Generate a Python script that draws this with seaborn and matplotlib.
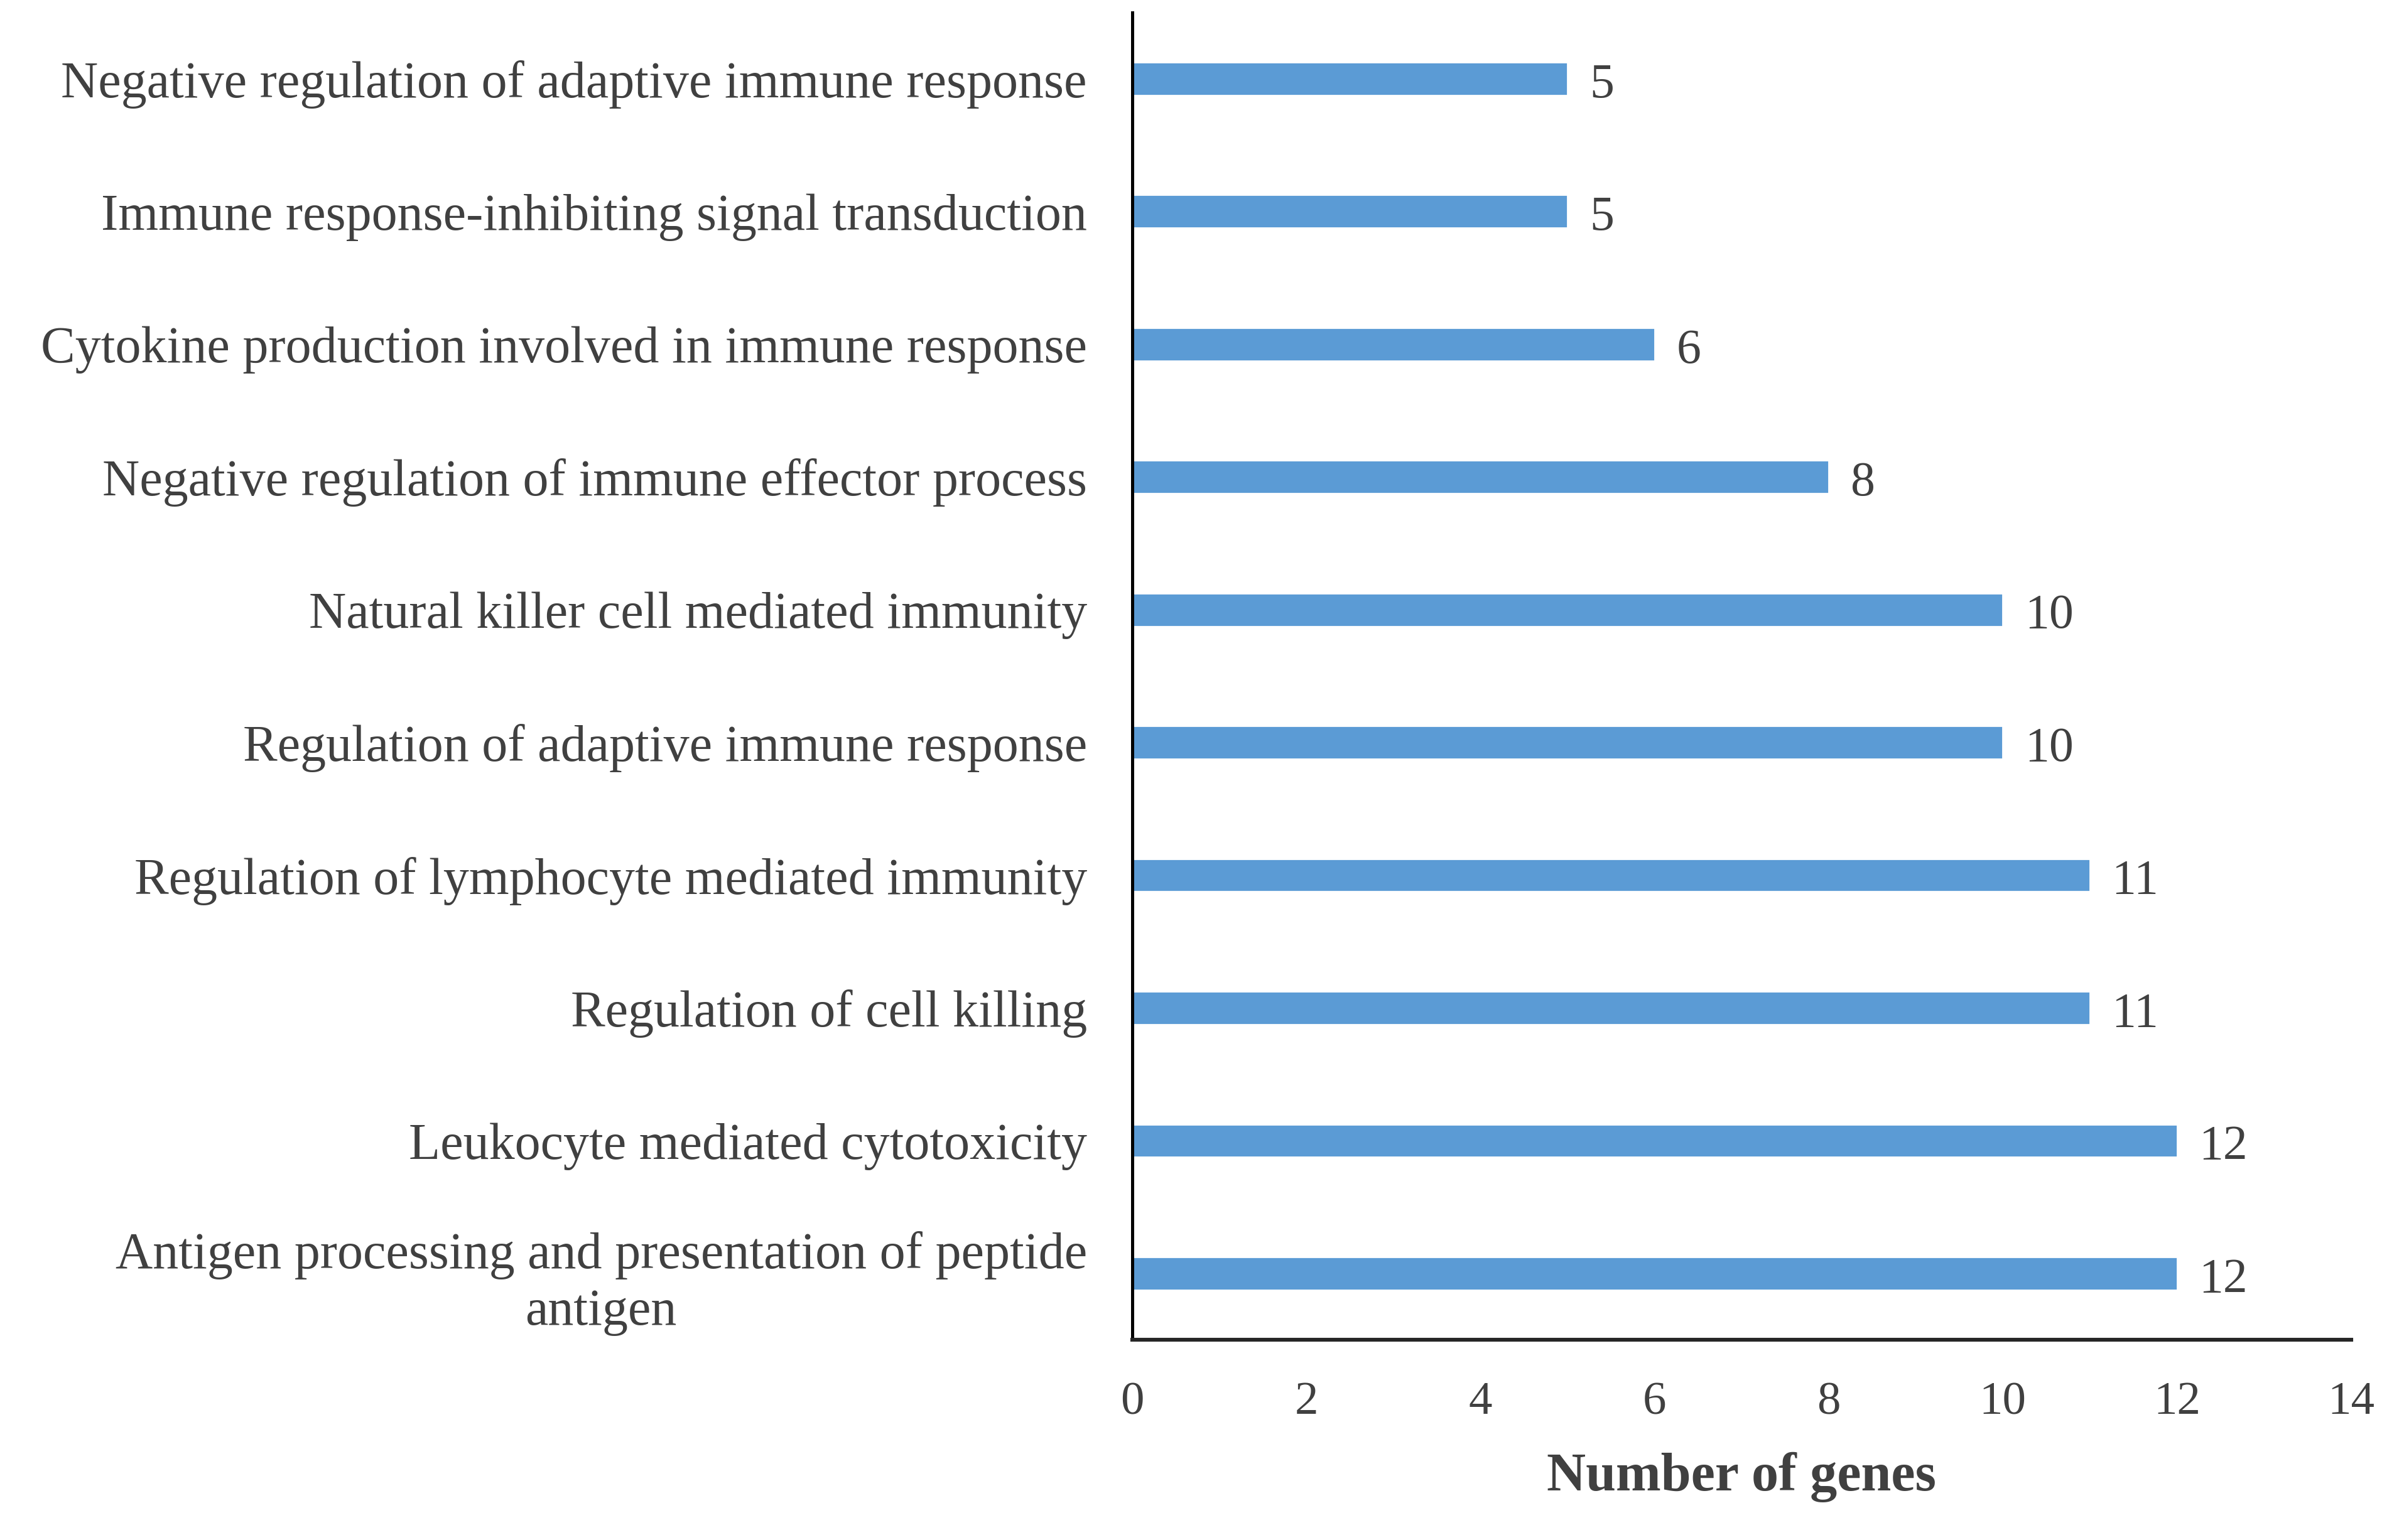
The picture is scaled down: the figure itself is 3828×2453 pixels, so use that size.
import matplotlib
matplotlib.use("Agg")
import matplotlib.pyplot as plt
import seaborn as sns
import pandas as pd

# Data (top to bottom)
terms = [
    "Negative regulation of adaptive immune response",
    "Immune response-inhibiting signal transduction",
    "Cytokine production involved in immune response",
    "Negative regulation of immune effector process",
    "Natural killer cell mediated immunity",
    "Regulation of adaptive immune response",
    "Regulation of lymphocyte mediated immunity",
    "Regulation of cell killing",
    "Leukocyte mediated cytotoxicity",
    "Antigen processing and presentation of peptide\nantigen",
]
gene_counts = [5, 5, 6, 8, 10, 10, 11, 11, 12, 12]
x_ticks = [0, 2, 4, 6, 8, 10, 12, 14]

BAR_COLOR = "#5B9BD5"
TEXT_COLOR = "#404040"

df = pd.DataFrame({"term": terms, "genes": gene_counts})

sns.set_style("white")
plt.rcParams["font.family"] = ["Liberation Serif", "DejaVu Serif"]

fig = plt.figure(figsize=(19.14, 12.265), dpi=200)
ax = fig.add_axes([0.471, 0.130, 0.507, 0.862])

sns.barplot(data=df, y="term", x="genes", orient="h", color=BAR_COLOR,
            width=0.25, saturation=1, ax=ax)

# value labels at bar ends
for i, v in enumerate(gene_counts):
    ax.text(v + 0.25, i + 0.05, str(v), va="center", ha="left",
            fontsize=28, color=TEXT_COLOR)

ax.set_xlim(0, 14)
ax.set_ylim(9.5, -0.5)
ax.set_xticks(x_ticks)
ax.set_xticklabels([str(t) for t in x_ticks], fontsize=27, color=TEXT_COLOR)
ax.tick_params(axis="x", direction="out", length=10, width=1.2, color="#404040", pad=14)
ax.tick_params(axis="y", length=0, pad=26)
for lbl in ax.get_yticklabels():
    lbl.set_fontsize(29.5)
    lbl.set_color(TEXT_COLOR)
    lbl.set_multialignment("center")
    lbl.set_linespacing(1.25)

ax.set_ylabel("")
ax.set_xlabel("Number of genes", fontsize=31, fontweight="bold", color=TEXT_COLOR, labelpad=16)

for side in ["top", "right"]:
    ax.spines[side].set_visible(False)
ax.spines["left"].set_color("black")
ax.spines["left"].set_linewidth(1.8)
ax.spines["bottom"].set_color("#262626")
ax.spines["bottom"].set_linewidth(2.2)

fig.savefig("out.png", dpi=200, facecolor="white")
